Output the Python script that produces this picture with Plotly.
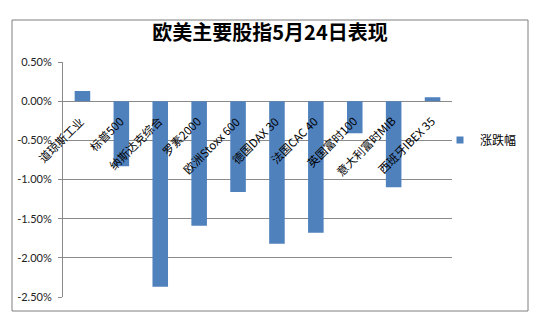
import plotly.graph_objects as go

# ---- data ----
categories = ["道琼斯工业", "标普500", "纳斯达克综合", "罗素2000", "欧洲Stoxx 600",
              "德国DAX 30", "法国CAC 40", "英国富时100", "意大利富时MIB", "西班牙IBEX 35"]
values = [0.13, -0.83, -2.37, -1.59, -1.16, -1.82, -1.68, -0.41, -1.10, 0.05]
y_tick_vals = [0.5, 0.0, -0.5, -1.0, -1.5, -2.0, -2.5]
y_tick_labels = ["0.50%", "0.00%", "-0.50%", "-1.00%", "-1.50%", "-2.00%", "-2.50%"]
series_name = "涨跌幅"
title_text = "欧美主要股指5月24日表现"

# ---- layout geometry ----
W, H = 547, 319
L, R, T, B = 63, 95, 62, 22
PW, PH = W - L - R, H - T - B


def px_x(px):
    return (px - L) / PW


def px_y(py):
    return (H - B - py) / PH


BLUE = "#4F81BD"
GRID = "#8a8a8a"
CJK = "Noto Sans CJK SC"

fig = go.Figure()
fig.add_trace(go.Bar(
    x=categories, y=values, width=0.4,
    marker=dict(color=BLUE, line=dict(width=0)),
    showlegend=False, name=series_name,
))
# legend entry with small square symbol
fig.add_trace(go.Scatter(
    x=[None], y=[None], mode="markers", name=series_name,
    marker=dict(symbol="square", size=7, color=BLUE),
))

annotations = []
for c in categories:
    annotations.append(dict(
        x=c, y=0, xref="x", yref="y", text=c, showarrow=False,
        textangle=-45, xanchor="right", yanchor="top",
        xshift=8, yshift=-9,
        font=dict(family=CJK, size=11.5, color="#000000"),
    ))

fig.update_layout(
    width=W, height=H,
    margin=dict(l=L, r=R, t=T, b=B),
    paper_bgcolor="white", plot_bgcolor="white",
    title=dict(text=title_text, x=270 / W, xref="container", xanchor="center",
               y=1 - 33 / H, yref="container", yanchor="middle",
               font=dict(family=CJK, size=20, color="#000000", weight="bold")),
    xaxis=dict(type="category", range=[-0.5, len(categories) - 0.5],
               showticklabels=False, showgrid=False, zeroline=False, showline=False,
               ticks=""),
    yaxis=dict(range=[-2.5, 0.5], tickvals=y_tick_vals, ticktext=y_tick_labels,
               showgrid=True, gridcolor=GRID, gridwidth=1,
               zeroline=True, zerolinecolor=GRID, zerolinewidth=1,
               showline=True, linecolor=GRID, linewidth=1,
               ticks="outside", ticklen=4, tickcolor=GRID,
               ticklabelstandoff=4,
               tickfont=dict(family="Lato", size=11, color="#222222")),
    legend=dict(x=px_x(440), y=px_y(140), xanchor="left", yanchor="middle",
                font=dict(family=CJK, size=12, color="#000000"),
                itemwidth=30, bgcolor="rgba(0,0,0,0)"),
    annotations=annotations,
    shapes=[dict(type="rect", xref="paper", yref="paper",
                 x0=px_x(12), x1=px_x(528), y0=px_y(311), y1=px_y(20),
                 line=dict(color="#7f7f7f", width=1), layer="below")],
    bargap=0.6,
)

fig.write_html("out.html")
